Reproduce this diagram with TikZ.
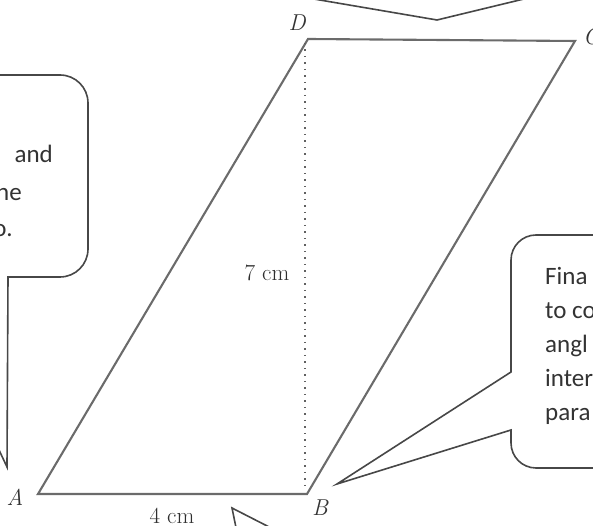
\documentclass[tikz,border=0pt]{standalone}
\usepackage{fontspec}
\newfontfamily\calfont{Carlito}
\begin{document}
\begin{tikzpicture}[x=1pt,y=1pt,
  shapeline/.style={draw=black!58, line width=2.1pt, line join=miter},
  calloutline/.style={draw=black!72, line width=1.6pt, line join=miter},
  dotline/.style={draw=black!62, line width=1.8pt, dash pattern=on 1.3pt off 5.2pt},
  vlabel/.style={text=black!80, font=\fontsize{23}{26}\selectfont\itshape, inner sep=0pt},
  mlabel/.style={text=black!82, font=\fontsize{23}{26}\selectfont, inner sep=0pt},
  ctext/.style={text=black!80, font=\calfont\fontsize{25}{30}\selectfont, inner sep=0pt}]
\useasboundingbox (0,0) rectangle (593,526);
% vertices
\coordinate (A) at (38,32);
\coordinate (B) at (307,32);
\coordinate (C) at (575,485);
\coordinate (D) at (308,487);
\coordinate (Dt) at (305,483);
\coordinate (Hf) at (305,35);
% parallelogram
\draw[shapeline] (A) -- (B) -- (C) -- (D) -- cycle;
\draw[dotline] (Dt) -- (Hf);
% vertex labels
\node[vlabel] (lA) at (15,29) {A};
\node[vlabel] (lB) at (320,18) {B};
\node[vlabel] (lD) at (297,503) {D};
\node[vlabel, anchor=west] (lC) at (583,489) {C};
% measures
\node[mlabel] (h) at (267,253) {7 cm};
\node[mlabel] (w) at (172,10) {4 cm};
% left callout
\coordinate (LT) at (7,59);
\draw[calloutline] (-20,451) -- (60,451) arc[start angle=90,end angle=0,radius=28]
  -- (88,277) arc[start angle=0,end angle=-90,radius=28] -- (8,249) -- (LT) -- (-82,249);
\node[ctext, anchor=base east] (l2) at (53,363) {and};
\node[ctext, anchor=base east] (l3) at (22,325) {ne};
\node[ctext, anchor=base east] (l4) at (13,289) {o.};
% top callout
\coordinate (TT) at (437,506);
\draw[calloutline] (308,528) -- (TT) -- (528,528);
% bottom callout
\coordinate (BT) at (232,18);
\draw[calloutline] (236.5,-4) -- (BT) -- (275,-4);
% right callout
\coordinate (RT) at (337,42);
\draw[calloutline] (620,291) -- (536,291) arc[start angle=90,end angle=180,radius=25]
  -- (511,154) -- (RT) -- (511,96) -- (511,83) arc[start angle=180,end angle=270,radius=25] -- (620,58);
\node[ctext, anchor=base west] (r1) at (545,241) {Fina};
\node[ctext, anchor=base west] (r2) at (545,207) {to co};
\node[ctext, anchor=base west] (r3) at (545,173) {angl};
\node[ctext, anchor=base west] (r4) at (545,139) {inter};
\node[ctext, anchor=base west] (r5) at (545,105) {para};
\end{tikzpicture}
\end{document}
